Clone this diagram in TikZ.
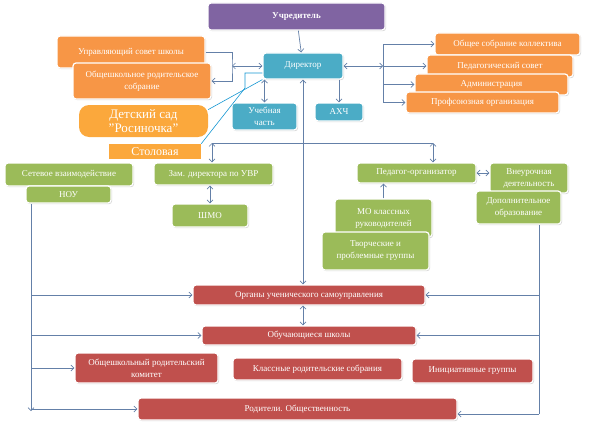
\documentclass[tikz,border=0pt]{standalone}
\usepackage{fontspec}
\setmainfont{Liberation Serif}
\usetikzlibrary{shadows,arrows.meta}
\definecolor{Purp}{RGB}{128,100,162}
\definecolor{Teal}{RGB}{75,172,198}
\definecolor{Orng}{RGB}{247,150,70}
\definecolor{Sad}{RGB}{251,168,60}
\definecolor{Grn}{RGB}{155,187,89}
\definecolor{Rd}{RGB}{192,80,77}
\definecolor{Ln}{RGB}{100,128,168}
\definecolor{Cy}{RGB}{20,150,210}
\newcommand{\orgbox}[7]{\node[#2, minimum width={(#5-#3)*1pt}, minimum height={(#6-#4)*1pt}] (#1) at ({(#3+#5)/2},{(#4+#6)/2}) {#7};}
\tikzset{
  unit/.style={draw=white, line width=1.2pt, rounded corners=3pt, text=white, align=center, inner sep=1pt,
    font=\fontsize{9}{12}\selectfont, drop shadow={shadow xshift=1pt,shadow yshift=-1.2pt,opacity=.3}},
  purp/.style={unit, fill=Purp},
  teal/.style={unit, fill=Teal},
  orng/.style={unit, fill=Orng},
  grn/.style={unit, fill=Grn},
  rd/.style={unit, fill=Rd},
  sad/.style={fill=Sad, rounded corners=10pt, text=white, align=center, inner sep=0pt, font=\fontsize{13}{14}\selectfont},
  stolbox/.style={fill=Sad, text=white, inner sep=0pt, font=\fontsize{12}{13}\selectfont},
  arr/.style={draw=Ln, line width=.7pt, -{Straight Barb[length=3pt,width=6pt]}},
  darr/.style={arr, {Straight Barb[length=3pt,width=6pt]}-{Straight Barb[length=3pt,width=6pt]}},
  cyl/.style={draw=Cy, line width=.6pt}
}
\begin{document}
\begin{tikzpicture}[x=1pt,y=-1pt]
\useasboundingbox (0,0) rectangle (600,428);
% top
\orgbox{uch}{purp, font=\fontsize{9}{12}\selectfont\bfseries}{208}{3}{385}{30}{Учредитель}
\orgbox{dir}{teal}{263}{53}{343}{79}{Директор}
\orgbox{ucheb}{teal}{232}{103}{297}{130}{Учебная\\часть}
\orgbox{axch}{teal}{315}{103}{363}{121}{АХЧ}
% left
\orgbox{usov}{orng}{57}{36}{205}{68}{Управляющий совет школы}
\orgbox{ors}{orng}{73}{63}{211}{99}{Общешкольное родительское\\собрание}
\orgbox{dsad}{sad}{79}{105}{208}{137}{Детский сад\\"Росиночка"}
\orgbox{stol}{stolbox}{109}{144}{201}{159}{Столовая}
% right
\orgbox{obsh}{orng}{435}{33}{580}{55}{Общее собрание коллектива}
\orgbox{ped}{orng}{427}{55}{573}{77}{Педагогический совет}
\orgbox{adm}{orng}{415}{74}{568}{95}{Администрация}
\orgbox{prof}{orng}{406}{92}{559}{113}{Профсоюзная организация}
% green
\orgbox{set}{grn}{5}{163}{133}{186}{Сетевое взаимодействие}
\orgbox{nou}{grn}{26}{186}{111}{203}{НОУ}
\orgbox{zam}{grn}{154}{163}{273}{185}{Зам. директора по УВР}
\orgbox{shmo}{grn}{172}{204}{248}{227}{ШМО}
\orgbox{pedorg}{grn}{357}{163}{476}{183}{Педагог-организатор}
\orgbox{vneur}{grn}{490}{163}{568}{193}{Внеурочная\\деятельность}
\orgbox{dop}{grn}{476}{191}{561}{224}{Дополнительное\\образование}
\orgbox{mo}{grn}{335}{199}{432}{237}{МО классных\\руководителей}
\orgbox{tvor}{grn}{322}{232}{429}{270}{Творческие и\\проблемные группы}
% red
\orgbox{organy}{rd}{193}{285}{425}{305}{Органы ученического самоуправления}
\orgbox{obuch}{rd}{202}{326}{416}{345}{Обучающиеся школы}
\orgbox{komit}{rd}{75}{353}{218}{383}{Общешкольный родительский\\комитет}
\orgbox{klass}{rd}{233}{358}{402}{380}{Классные родительские собрания}
\orgbox{inic}{rd}{412}{359}{533}{383}{Инициативные группы}
\orgbox{rodit}{rd}{138}{398}{457}{420}{Родители. Общественность}
% connectors
\coordinate (lbr) at (232,66);
\coordinate (rbr) at (383,66);
\coordinate (cj) at (245,73);
\coordinate (cj2) at (245,88);
\coordinate (hl1) at (212,143);
\coordinate (hl2) at (433,143);
\coordinate (lvtop) at (31,204);
\coordinate (lvbot) at (31,411);
\coordinate (rvtop) at (539,225);
\coordinate (rvbot) at (539,414);
\draw[arr] (uch) -- (dir);
\draw[arr] (usov.east) -| (lbr) |- (ors.east);
\draw[darr] (lbr) -- (dir.west);
\draw[cyl] (dir.west |- cj) -- (cj) -- (cj2) -- (stol.north east);
\draw[cyl] (dir.south west) -- (dsad.10);
\draw[darr] (ucheb.north |- dir.south) -- (ucheb.north);
\draw[arr] (axch.north |- dir.south) -- (axch.north);
\draw[darr] (dir.east) -- (rbr);
\draw[arr] (rbr) |- (obsh.west);
\draw[arr] (rbr) |- (ped.west);
\draw[arr] (rbr) |- (adm.west);
\draw[arr] (rbr) |- (prof.west);
\draw[darr] (organy.north -| dir) -- (dir.south);
\draw[Ln, line width=.7pt] (hl1) -- (hl2);
\draw[darr] (hl1) -- (hl1 |- zam.north);
\draw[darr] (hl2) -- (hl2 |- pedorg.north);
\draw[darr] (zam.south -| shmo.north) -- (shmo.north);
\draw[arr] (mo.north) -- (mo.north |- pedorg.south);
\draw[darr] (pedorg.east) -- (vneur.west |- pedorg.east);
\draw[arr] (lvtop) -- (lvbot);
\draw[arr] (lvtop |- organy) -- (organy.west);
\draw[arr] (lvtop |- obuch) -- (obuch.west);
\draw[arr] (lvtop |- komit) -- (komit.west);
\draw[arr] (lvtop |- rodit) -- (rodit.west);
\draw[Ln, line width=.7pt] (rvtop) -- (rvbot);
\draw[arr] (rvtop |- organy) -- (organy.east);
\draw[arr] (rvtop |- obuch) -- (obuch.east);
\draw[arr] (rvbot) -- (rvbot -| rodit.east);
\draw[darr] (organy.south -| dir) -- (obuch.north -| dir);
\end{tikzpicture}
\end{document}
